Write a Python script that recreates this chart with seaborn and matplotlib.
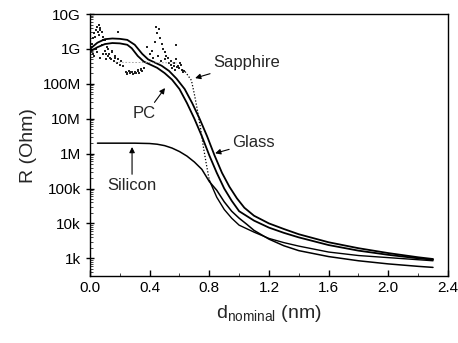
import numpy as np
import pandas as pd
import matplotlib
matplotlib.use("Agg")
import matplotlib.pyplot as plt
import seaborn as sns
from matplotlib.ticker import FixedLocator, LogLocator, NullFormatter, MultipleLocator

# ---- data (log10 of resistance in Ohm vs nominal thickness in nm) ----
pc_d = [0.0, 0.05, 0.1, 0.15, 0.2, 0.25, 0.28, 0.32, 0.36, 0.4, 0.45, 0.5, 0.55, 0.6, 0.65,
        0.7, 0.75, 0.8, 0.85, 0.9, 0.95, 1.0, 1.1, 1.2, 1.3, 1.4, 1.6, 1.8, 2.0, 2.2, 2.3]
pc_log = [8.93, 9.05, 9.14, 9.17, 9.16, 9.12, 9.02, 8.8, 8.64, 8.56, 8.46, 8.31, 8.12, 7.85, 7.45,
          7.0, 6.5, 5.95, 5.45, 5.0, 4.65, 4.35, 4.08, 3.88, 3.73, 3.6, 3.38, 3.22, 3.1, 3.0, 2.96]

glass_d = [0.0, 0.05, 0.1, 0.15, 0.2, 0.25, 0.3, 0.35, 0.39, 0.43, 0.48, 0.53, 0.58, 0.635, 0.685,
           0.735, 0.785, 0.835, 0.885, 0.935, 0.985, 1.035, 1.1, 1.2, 1.3, 1.4, 1.6, 1.8, 2.0, 2.2, 2.3]
glass_log = [9.0, 9.18, 9.28, 9.3, 9.29, 9.26, 9.12, 8.86, 8.7, 8.62, 8.52, 8.37, 8.15, 7.85, 7.45,
             7.0, 6.5, 5.95, 5.45, 5.05, 4.72, 4.45, 4.22, 4.0, 3.84, 3.69, 3.46, 3.29, 3.15, 3.03, 2.98]

si_d = [0.05, 0.1, 0.2, 0.3, 0.4, 0.45, 0.5, 0.55, 0.6, 0.65, 0.7, 0.75, 0.8, 0.85, 0.9, 0.95,
        1.0, 1.05, 1.1, 1.2, 1.3, 1.4, 1.6, 1.8, 2.0, 2.2, 2.3]
si_log = [6.3, 6.3, 6.3, 6.3, 6.29, 6.27, 6.23, 6.16, 6.06, 5.93, 5.76, 5.55, 5.2, 4.95, 4.62, 4.35,
          4.15, 3.98, 3.8, 3.55, 3.36, 3.22, 3.05, 2.93, 2.84, 2.77, 2.74]

# sapphire: steep dotted drop, then continuous tail
sap_drop_d = [0.62, 0.64, 0.66, 0.68, 0.70, 0.72, 0.74, 0.76, 0.78, 0.80]
sap_drop_log = [8.4, 8.34, 8.22, 8.1, 7.7, 7.25, 6.76, 6.2, 5.7, 5.24]
sap_tail_d = [0.80, 0.85, 0.9, 0.95, 1.0, 1.1, 1.2, 1.3, 1.4, 1.6, 1.8, 2.0, 2.2, 2.3]
sap_tail_log = [5.24, 4.75, 4.4, 4.15, 3.95, 3.75, 3.57, 3.45, 3.35, 3.18, 3.08, 3.02, 2.96, 2.93]

# sapphire scattered points at small thickness
sap_pts_d = [0.00, 0.01, 0.02, 0.02, 0.03, 0.03, 0.04, 0.04, 0.05, 0.05, 0.06, 0.06, 0.07, 0.07,
             0.08, 0.08, 0.09, 0.09, 0.10, 0.10, 0.11, 0.12, 0.12, 0.19,
             0.13, 0.14, 0.15, 0.16, 0.17, 0.18, 0.19, 0.20, 0.21, 0.22,
             0.24, 0.25, 0.26, 0.27, 0.28, 0.29, 0.30, 0.31, 0.32, 0.33, 0.34, 0.35, 0.36,
             0.38, 0.40, 0.42, 0.44, 0.45, 0.46, 0.47, 0.48, 0.49, 0.50, 0.50, 0.51, 0.52, 0.53,
             0.54, 0.55, 0.56, 0.57, 0.58, 0.58, 0.59, 0.60, 0.61, 0.62, 0.63,
             0.015, 0.035, 0.055, 0.065, 0.085, 0.105, 0.115, 0.135, 0.145, 0.165,
             0.245, 0.265, 0.285, 0.305, 0.325, 0.345, 0.415, 0.435, 0.455, 0.475,
             0.545, 0.565, 0.585, 0.605, 0.625]
sap_pts_log = [8.95, 9.05, 8.85, 9.3, 9.45, 8.8, 9.55, 9.0, 9.62, 8.9, 9.7, 9.4, 9.55, 8.75,
               9.5, 9.1, 9.35, 8.85, 9.25, 8.95, 8.7, 9.0, 8.8, 9.48,
               8.85, 8.7, 8.95, 8.65, 8.8, 8.6, 8.7, 8.55, 8.65, 8.5,
               8.35, 8.3, 8.38, 8.3, 8.33, 8.28, 8.35, 8.3, 8.4, 8.32, 8.42, 8.38, 8.45,
               9.05, 8.85, 8.75, 9.63, 9.45, 9.57, 9.3, 9.15, 9.0, 8.9, 8.7, 8.8, 8.75, 8.6,
               8.55, 8.45, 8.6, 8.4, 9.1, 8.7, 8.5, 8.45, 8.55, 8.4, 8.38,
               9.15, 9.35, 9.5, 9.6, 9.25, 8.85, 9.05, 8.75, 8.9, 8.75,
               8.29, 8.34, 8.27, 8.31, 8.36, 8.4, 8.95, 9.2, 8.8, 8.65,
               8.65, 8.5, 8.48, 8.6, 8.35]

faint_d = [0.17, 0.58]
faint_log = [8.62, 8.6]

ytick_vals = [1e3, 1e4, 1e5, 1e6, 1e7, 1e8, 1e9, 1e10]
ytick_labels = ["1k", "10k", "100k", "1M", "10M", "100M", "1G", "10G"]
xtick_vals = [0.0, 0.4, 0.8, 1.2, 1.6, 2.0, 2.4]
xtick_labels = ["0.0", "0.4", "0.8", "1.2", "1.6", "2.0", "2.4"]

# ---- plotting ----
sns.set_style("ticks")
plt.rcParams["font.family"] = ["Liberation Sans", "DejaVu Sans"]
plt.rcParams["mathtext.fontset"] = "custom"
plt.rcParams["mathtext.rm"] = "Liberation Sans"

fig = plt.figure(figsize=(4.58, 3.43), dpi=100)
ax = fig.add_axes([0.1965, 0.195, 0.7815, 0.764])

def df(d, lg):
    return pd.DataFrame({"d": d, "R": np.power(10.0, lg)})

sns.lineplot(data=df(pc_d, pc_log), x="d", y="R", color="black", lw=1.3,
             sort=False, estimator=None, ax=ax)
sns.lineplot(data=df(glass_d, glass_log), x="d", y="R", color="black", lw=1.3,
             sort=False, estimator=None, ax=ax)
sns.lineplot(data=df(si_d, si_log), x="d", y="R", color="black", lw=1.1,
             sort=False, estimator=None, ax=ax)
sns.lineplot(data=df(sap_tail_d, sap_tail_log), x="d", y="R", color="black", lw=1.0,
             sort=False, estimator=None, ax=ax)
sns.lineplot(data=df(sap_drop_d, sap_drop_log), x="d", y="R", color="black", lw=0.9,
             linestyle=(0, (1, 1.5)), sort=False, estimator=None, ax=ax)
sns.lineplot(data=df(faint_d, faint_log), x="d", y="R", color="#999999", lw=0.6,
             linestyle=(0, (2, 2)), sort=False, estimator=None, ax=ax)
sns.scatterplot(data=df(sap_pts_d, sap_pts_log), x="d", y="R", color="#222222", s=1.6,
                marker="s", linewidth=0, ax=ax)

ax.set_yscale("log")
ax.set_xlim(0.0, 2.4)
ax.set_ylim(10 ** 2.49, 1e10)
ax.yaxis.set_major_locator(FixedLocator(ytick_vals))
ax.set_yticklabels(ytick_labels)
ax.yaxis.set_minor_locator(LogLocator(base=10, subs=np.arange(2, 10) * 1.0, numticks=20))
ax.yaxis.set_minor_formatter(NullFormatter())
ax.set_xticks(xtick_vals)
ax.set_xticklabels(xtick_labels)
ax.xaxis.set_minor_locator(MultipleLocator(0.2))

ax.tick_params(axis="both", which="major", labelsize=11, colors="black", width=1.0)
ax.tick_params(axis="x", which="both", direction="in", top=False)
ax.tick_params(axis="x", which="major", length=4)
ax.tick_params(axis="x", which="minor", length=2.5)
ax.tick_params(axis="y", which="major", direction="inout", length=6, right=False)
ax.tick_params(axis="y", which="minor", direction="in", length=2, right=False)
for s in ax.spines.values():
    s.set_visible(True)
    s.set_linewidth(1.0)
    s.set_color("black")

ax.set_xlabel(r"d$_{\mathregular{nominal}}$ (nm)", fontsize=14, labelpad=6)
ax.set_ylabel("R (Ohm)", fontsize=14, labelpad=4)

arr = dict(arrowstyle="-|>", color="black", lw=0.8, mutation_scale=8, shrinkA=0, shrinkB=0)
ax.annotate("Sapphire", xy=(0.705, 10 ** 8.165), xytext=(0.826, 10 ** 8.60),
            fontsize=12, ha="left", va="center", arrowprops=arr)
ax.annotate("PC", xy=(0.503, 10 ** 7.88), xytext=(0.362, 10 ** 7.16),
            fontsize=12, ha="center", va="center",
            arrowprops=dict(arr, relpos=(0.85, 1.0)))
ax.annotate("Glass", xy=(0.839, 10 ** 6.01), xytext=(0.955, 10 ** 6.32),
            fontsize=12, ha="left", va="center", arrowprops=arr)
ax.annotate("Silicon", xy=(0.282, 10 ** 6.19), xytext=(0.282, 10 ** 5.10),
            fontsize=12, ha="center", va="center",
            arrowprops=dict(arr, relpos=(0.5, 1.0)))

fig.savefig("out.png", dpi=100)
